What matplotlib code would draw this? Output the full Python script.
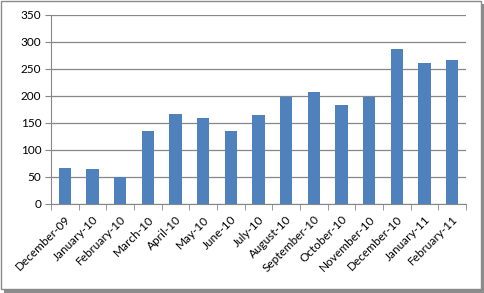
import matplotlib.pyplot as plt
import matplotlib.patches as mpatches
import numpy as np

months = ['December-09', 'January-10', 'February-10', 'March-10', 'April-10', 'May-10',
          'June-10', 'July-10', 'August-10', 'September-10', 'October-10', 'November-10',
          'December-10', 'January-11', 'February-11']
values = [67, 65, 49, 135, 166, 159, 135, 165, 198, 207, 183, 198, 287, 261, 266]

plt.rcParams['font.family'] = ['Lato', 'DejaVu Sans']

fig = plt.figure(figsize=(4.85, 2.93), dpi=100)

# frame + drop shadow like the pasted excel chart
fig.patches.append(mpatches.Rectangle((0.008, 0.0), 0.992, 0.985, transform=fig.transFigure,
                                      facecolor='#8c8c8c', edgecolor='none', zorder=-2))
fig.patches.append(mpatches.Rectangle((0.002, 0.012), 0.99, 0.985, transform=fig.transFigure,
                                      facecolor='white', edgecolor='#8a8a8a', linewidth=1, zorder=-1))

ax = fig.add_axes([0.105, 0.304, 0.856, 0.646])
x = np.arange(len(months))
ax.bar(x, values, width=0.44, color='#4F81BD', zorder=3)

ax.set_xlim(-0.5, len(months) - 0.5)
ax.set_ylim(0, 350)
ax.set_yticks(np.arange(0, 351, 50))
ax.yaxis.grid(True, color='#878787', linewidth=0.9)
ax.set_axisbelow(True)

ax.set_xticks(x)
ax.set_xticklabels(months, rotation=45, ha='right', rotation_mode='anchor', fontsize=8.5)
ax.set_xticks(np.arange(-0.5, len(months)), minor=True)
ax.tick_params(axis='x', which='major', length=0, pad=7)
ax.tick_params(axis='x', which='minor', length=4, color='#878787', direction='out')
ax.tick_params(axis='y', length=4, color='#878787', labelsize=8.5, pad=3)

for s in ['top', 'right']:
    ax.spines[s].set_visible(False)
ax.spines['left'].set_color('#878787')
ax.spines['bottom'].set_color('#878787')
ax.patch.set_alpha(0)

fig.savefig('out.png', dpi=100)
